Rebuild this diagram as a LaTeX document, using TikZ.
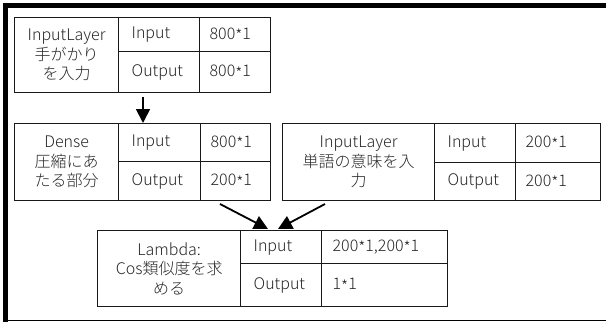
\documentclass[tikz,border=0pt]{standalone}
\usepackage{fontspec}
\IfFontExistsTF{Noto Sans CJK JP Light}{\setmainfont{Noto Sans CJK JP Light}}{\setmainfont{Noto Sans CJK JP}}
\usetikzlibrary{arrows.meta}
\newcommand\lowstar{\raisebox{-0.28ex}{*}}
\tikzset{
  cell/.style={draw=black!90, line width=1.3pt, inner ysep=0pt, text=black!85,
    font=\fontsize{16}{19.5}\selectfont},
  arr/.style={line width=1.8pt, -{Triangle[length=14pt,width=14pt]}},
  frame/.style={fill=black}
}
% name, x, y, width, height, text width, pad, align (l or c), text
\newcommand\tcell[9]{\node[cell, anchor=north west, minimum width=#4pt, minimum height=#5pt,
  inner xsep=#7pt] (#1) at (#2,#3) {\raisebox{-1.5pt}{\parbox{#6pt}{\ifx l#8\raggedright\else\centering\fi #9}}};}
\begin{document}
\begin{tikzpicture}[x=1pt,y=-1pt]
\useasboundingbox (0,0) rectangle (606,322);
% outer frame
\fill[frame] (3,3) rectangle (606,7.5);
\fill[frame] (3,3) rectangle (8,322);
\draw[line width=1.2pt] (3,320.5) -- (606,320.5);
% table 1
\tcell{tan}{14}{17}{104}{75}{96}{4}{c}{InputLayer\\手がかり\\を入力}
\tcell{tai}{118}{17}{81}{34}{55}{13}{l}{Input}
\tcell{tao}{118}{51}{81}{41}{55}{13}{l}{Output}
\tcell{taa}{199}{17}{71}{34}{51}{10}{l}{800\lowstar1}
\tcell{tab}{199}{51}{71}{41}{51}{10}{l}{800\lowstar1}
% dense
\tcell{tbn}{14}{123}{104}{77}{96}{4}{c}{Dense\\圧縮にあ\\たる部分}
\tcell{tbi}{118}{123}{82}{38}{56}{13}{l}{Input}
\tcell{tbo}{118}{161}{82}{39}{56}{13}{l}{Output}
\tcell{tba}{200}{123}{70}{38}{50}{10}{l}{800\lowstar1}
\tcell{tbb}{200}{161}{70}{39}{50}{10}{l}{200\lowstar1}
% right input layer
\tcell{tcn}{282}{123}{152}{77}{144}{4}{c}{InputLayer\\単語の意味を入\\力}
\tcell{tci}{434}{123}{81}{39}{55}{13}{l}{Input}
\tcell{tco}{434}{162}{81}{38}{55}{13}{l}{Output}
\tcell{tca}{515}{123}{85}{39}{65}{10}{l}{200\lowstar1}
\tcell{tcb}{515}{162}{85}{38}{65}{10}{l}{200\lowstar1}
% lambda
\tcell{tdn}{97}{230}{143}{76}{135}{4}{c}{Lambda:\\Cos類似度を求\\める}
\tcell{tdi}{240}{230}{81}{33}{55}{13}{l}{Input}
\tcell{tdo}{240}{263}{81}{43}{55}{13}{l}{Output}
\tcell{tda}{321}{230}{126}{33}{104}{11}{l}{200\lowstar1,200\lowstar1}
\tcell{tdb}{321}{263}{126}{43}{104}{11}{l}{1\lowstar1}
% arrows
\coordinate (p1) at (143,97);
\coordinate (q1) at (143,123);
\draw[arr] (p1) -- (q1);
\coordinate (p2) at (220,204);
\coordinate (q2) at (268,229);
\coordinate (p3) at (325,204);
\coordinate (q3) at (278,229);
\draw[arr] (p2) -- (q2);
\draw[arr] (p3) -- (q3);
\end{tikzpicture}
\end{document}
